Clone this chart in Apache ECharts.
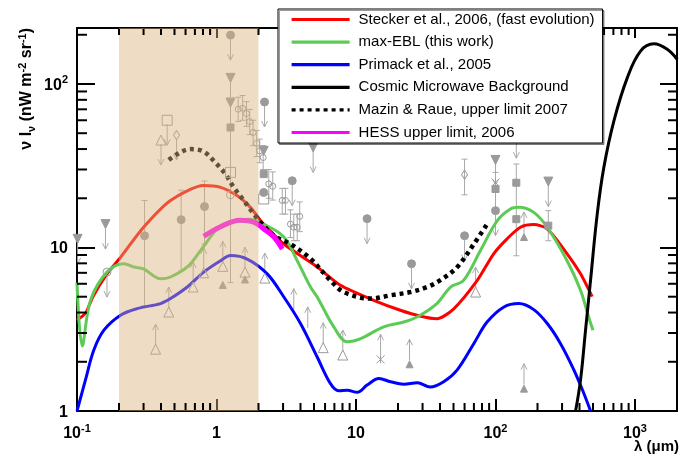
<!DOCTYPE html>
<html><head><meta charset="utf-8">
<script src="https://cdn.jsdelivr.net/npm/echarts@6/dist/echarts.min.js"></script>
<style>html,body{margin:0;padding:0;background:#fff}#c{width:682px;height:457px}</style>
</head><body><div id="c"></div>
<script>
const FONT = 'Liberation Sans';
const X_MIN = 0.1, X_MAX = 2000, Y_MIN = 1, Y_MAX = 220;

// axis ticks and labels
const xTickValues = [0.1, 1, 10, 100, 1000];
const xTickLabels = [['10','-1'],['1',''],['10',''],['10','2'],['10','3']];
const yTickValues = [1, 10, 100];
const yTickLabels = [['1',''],['10',''],['10','2']];
const xMinorTicks = [0.2,0.3,0.4,0.5,0.6,0.7,0.8,0.9,2,3,4,5,6,7,8,9,20,30,40,50,60,70,80,90,200,300,400,500,600,700,800,900];
const yMinorTicks = [2,3,4,5,6,7,8,9,20,30,40,50,60,70,80,90,200];

// shaded optical band (um)
const bandRange = [[0.2, 2]];

// model curves  [lambda (um), nuI_nu]
const stecker = [[0.1,3.6],[0.115,3.96],[0.13,5.0],[0.164,6.9],[0.205,8.7],[0.3,13.3],[0.468,19.4],[0.81,23.9],[1.07,23.3],[1.41,20.7],[1.75,17.6],[2.07,14.6],[2.18,13.9],[3.04,10.5],[5.27,7.6],[7.74,5.87],[13.4,4.75],[20.8,4.13],[29,3.8],[38,3.67],[50,4.2],[74,6.29],[97,9.15],[121,11.3],[151,13.3],[188,13.8],[235,13],[326,9.15],[407,6.9],[493,5.0]];
const maxEBL = [[0.1,6.1],[0.109,2.5],[0.125,4.75],[0.164,7.07],[0.217,7.95],[0.255,7.6],[0.30,7.4],[0.397,6.44],[0.468,6.6],[0.617,7.6],[0.77,9.6],[1.07,13.6],[1.41,14.6],[1.75,14.9],[2.18,13.9],[3.04,11.6],[3.79,8.3],[4.72,5.73],[5.27,4.98],[6.93,3.27],[8.65,2.65],[10.8,2.77],[15.8,3.27],[22,3.5],[28,3.8],[38,4.54],[47.6,5.73],[59,6.29],[78,9.6],[103,14.6],[128,17.2],[147,17.6],[188,16.4],[235,13.3],[326,8.3],[407,5.47],[465,3.76],[500,3.12]];
const primack = [[0.1,1.0],[0.115,1.55],[0.132,2.36],[0.156,3.12],[0.205,3.85],[0.27,4.23],[0.397,4.54],[0.468,4.87],[0.617,5.73],[0.81,7.07],[1.07,8.3],[1.26,8.93],[1.66,8.5],[2.31,6.9],[3.04,4.98],[4.0,3.43],[5.27,2.14],[6.56,1.47],[7.52,1.33],[8.65,1.34],[10.2,1.3],[12,1.44],[14.6,1.58],[17.7,1.51],[22,1.46],[27.5,1.49],[34,1.4],[42.5,1.51],[53,1.78],[70,2.59],[87,3.5],[115,4.33],[147,4.54],[188,4.17],[235,3.43],[292,2.59],[365,1.78],[430,1.28],[480,1.0]];
const cmb = [[375,1.0],[407,1.55],[442,3.12],[480,6.29],[536,16],[598,30.9],[706,59.5],[880,109],[1096,159],[1365,176],[1702,163],[2010,141]];
const mazinRaue = [[0.455,34.3],[0.52,37.2],[0.65,40],[0.81,38.6],[0.98,33.1],[1.16,28.1],[1.33,23.3],[1.57,19.4],[1.85,16],[2.13,13.9],[2.58,11.8],[3.39,10.5],[4.72,8.53],[6.56,6.29],[8.17,5.34],[12.7,4.87],[17.7,5.1],[24.6,5.34],[32.3,5.73],[40,6.29],[53,7.57],[70,10.5],[87,13.9]];
const hess = [[0.81,11.7],[1.07,13.4],[1.48,14.7],[1.85,14.3],[2.18,13],[2.58,11.6],[2.96,9.8]];

// measurements [lambda, value, marker]
const upperLimits = [[0.101,11.3,'invTri'],[0.16,13.9,'invTri'],[0.164,7.07,'oCircle'],[0.40,45.4,'oTri'],[0.443,60,'oSquare'],[0.517,48.7,'oDiamond'],[1.26,199,'fCircle'],[1.26,109,'invTri'],[2.21,77.6,'fCircle'],[3.49,25.6,'fCircle'],[4.93,40.9,'invTri'],[12,15,'fCircle'],[25,7.95,'fCircle'],[60,11.8,'fCircle'],[100,34.3,'invTri'],[100,16.8,'fCircle'],[141,50,'invTri'],[239,25.3,'invTri']];
const lowerLimits = [[0.366,2.39,'oTri'],[0.455,4.03,'oTri'],[0.68,5.73,'oTri'],[0.81,7.0,'oTri'],[1.11,7.67,'oTri'],[1.6,7.07,'oTri'],[2.22,6.5,'oTri'],[3.58,3.94,'none'],[4.51,3.05,'none'],[5.82,2.44,'oTri'],[8.04,2.2,'oTri'],[15,2.07,'star'],[24.2,1.93,'fTri'],[72,5.34,'oTri'],[160,11.6,'fTri'],[160,1.37,'fTri']];
// [lambda, value, low, high, marker]
const errorPoints = [[0.305,11.8,4.4,19.4,'fCircle'],[0.558,14.8,7.2,22.4,'fCircle'],[0.82,17.8,10.5,25.5,'fCircle'],[1.26,54.2,6.1,78.6,'fSquare'],
 [1.43,70.1,59,83,'oCircleS'],[1.54,71.1,60,85,'oCircleS'],[1.64,65.9,55,78,'oCircleS'],[1.73,58.9,49,70,'oCircleS'],[1.83,50.5,42,60,'oCircleS'],[1.94,43.3,36,52,'oCircleS'],[2.04,39.0,33,46,'oCircleS'],[2.16,35.5,30,42,'oCircleS'],
 [2.37,24.5,20,30,'oCircleS'],[2.53,23.7,19.5,29,'oCircleS'],[2.96,19.4,16,23,'oCircleS'],[3.12,19.4,16,23,'oCircleS'],[3.39,13.9,11.5,17,'oCircleS'],[3.58,13.3,11,16,'oCircleS'],[3.79,13.3,11,16,'oCircleS'],[3.95,15.5,12.5,19,'oCircleS'],
 [60,27.9,21,34.7,'oDiamond'],[100,22.8,16.8,28.8,'fSquare'],[141,24.9,8.9,32.4,'fSquare'],[239,13.6,11,16.8,'fSquare']];
const plainPoints = [[1.26,76.9,'invTri'],[1.26,28.8,'oSquare'],[1.26,21,'oCircle'],[2.18,39,'invTri'],[2.18,28.1,'fSquare'],[2.18,21.7,'fCircle'],[2.18,19.8,'oSquare'],[1.11,5.9,'fTri'],[1.6,6.37,'fTri'],[141,14.9,'fSquare'],[100,25,'star']];

const NAMES = ['Stecker et al., 2006, (fast evolution)','max-EBL (this work)','Primack et al., 2005','Cosmic Microwave Background','Mazin & Raue, upper limit 2007','HESS upper limit, 2006'];

const GRAY = '#9a9a9a';
const MARKERS = {
  fCircle:{symbol:'circle', size:8, fill:GRAY},
  oCircle:{symbol:'circle', size:8, fill:'rgba(0,0,0,0)'},
  oCircleS:{symbol:'circle', size:6, fill:'rgba(0,0,0,0)'},
  invTri:{symbol:'triangle', size:9, fill:GRAY, rotate:180},
  fSquare:{symbol:'rect', size:7, fill:GRAY},
  oSquare:{symbol:'rect', size:10, fill:'rgba(0,0,0,0)'},
  oDiamond:{symbol:'diamond', size:[6,9], fill:'rgba(0,0,0,0)'},
  oTri:{symbol:'triangle', size:10, fill:'rgba(0,0,0,0)'},
  fTri:{symbol:'triangle', size:7, fill:GRAY},
  star:{symbol:'path://M0,0L10,10M10,0L0,10M5,0L5,10', size:8, fill:'none'}
};

const RICH = {
  b:{fontFamily:FONT, fontSize:16, fontWeight:'bold', color:'#000', lineHeight:19, verticalAlign:'bottom'},
  s:{fontFamily:FONT, fontSize:11, fontWeight:'bold', color:'#000', lineHeight:12, verticalAlign:'top'}
};
function labelFmt(vals, labels){
  return function(v){
    for (let i=0;i<vals.length;i++){
      if (Math.abs(Math.log10(v)-Math.log10(vals[i]))<1e-6){
        const b = labels[i][0], s = labels[i][1];
        return s ? '{b|'+b+'}{s|'+s+'}' : '{b|'+b+'}';
      }
    }
    return '';
  };
}
function axisX(pos, len, showLabel){
  return {type:'log', logBase:10, min:X_MIN, max:X_MAX, position:pos,
    axisLine:{show:true, onZero:false, lineStyle:{color:'#000', width:2}},
    axisTick:{show:true, inside:true, length:len, lineStyle:{color:'#000', width:2}},
    axisLabel:{show:showLabel, margin:12, formatter:labelFmt(xTickValues,xTickLabels), rich:RICH},
    splitLine:{show:false}};
}
function axisY(pos, len, showLabel){
  return {type:'log', logBase:10, min:Y_MIN, max:Y_MAX, position:pos,
    axisLine:{show:true, onZero:false, lineStyle:{color:'#000', width:2}},
    axisTick:{show:true, inside:true, length:len, lineStyle:{color:'#000', width:2}},
    axisLabel:{show:showLabel, margin:9, formatter:labelFmt(yTickValues,yTickLabels), rich:RICH},
    splitLine:{show:false}};
}

const series = [];
// minor ticks on all four sides, placed through the axes' scales
function tickSeries(data, size, offset){
  return {type:'scatter', silent:true, z:4, clip:false, data:data, symbol:'rect', symbolSize:size, symbolOffset:offset,
    itemStyle:{color:'#000', borderWidth:0, opacity:1}};
}
series.push(tickSeries(xMinorTicks.map(v=>[v,Y_MIN]), [2,7], [0,-4.5]));
series.push(tickSeries(xMinorTicks.map(v=>[v,Y_MAX]), [2,6], [0,4]));
series.push(tickSeries(yMinorTicks.map(v=>[X_MIN,v]), [10,2], [5,0]));
series.push(tickSeries(yMinorTicks.map(v=>[X_MAX,v]), [9,2], [-4.5,0]));

// error bars
series.push({type:'custom', silent:true, z:2, clip:true, data:errorPoints.map(d=>d.slice(0,4)), encode:{x:0, y:[1,2,3]},
  renderItem:(p,api)=>{const x=api.value(0); const lo=api.coord([x,api.value(2)]); const hi=api.coord([x,api.value(3)]);
    const st={stroke:'#a8a8a8', lineWidth:1}; const c=3;
    return {type:'group', children:[
      {type:'line', shape:{x1:lo[0],y1:lo[1],x2:hi[0],y2:hi[1]}, style:st},
      {type:'line', shape:{x1:lo[0]-c,y1:lo[1],x2:lo[0]+c,y2:lo[1]}, style:st},
      {type:'line', shape:{x1:hi[0]-c,y1:hi[1],x2:hi[0]+c,y2:hi[1]}, style:st}]};}});

function arrowSeries(arr, dir){
  return {type:'custom', silent:true, z:2, clip:true, encode:{x:0, y:1}, data:arr.map(d=>[d[0],d[1]]),
    renderItem:(p,api)=>{const pt=api.coord([api.value(0),api.value(1)]);
      const st={stroke:'#a8a8a8', lineWidth:1, fill:null};
      const y0=pt[1]+dir*4, y1=pt[1]+dir*25;
      return {type:'group', children:[
        {type:'line', shape:{x1:pt[0],y1:y0,x2:pt[0],y2:y1}, style:st},
        {type:'polyline', shape:{points:[[pt[0]-3,y1-dir*6],[pt[0],y1],[pt[0]+3,y1-dir*6]]}, style:st}]};}};
}
series.push(arrowSeries(upperLimits, 1));
series.push(arrowSeries(lowerLimits, -1));

// markers
const allMarked = [].concat(upperLimits.map(d=>[d[0],d[1],d[2]]), lowerLimits.map(d=>[d[0],d[1],d[2]]), errorPoints.map(d=>[d[0],d[1],d[4]]), plainPoints);
Object.keys(MARKERS).forEach(k=>{
  const m = MARKERS[k];
  const pts = allMarked.filter(d=>d[2]===k).map(d=>[d[0],d[1]]);
  if (!pts.length) return;
  series.push({type:'scatter', silent:true, z:2, data:pts, symbol:m.symbol, symbolSize:m.size, symbolRotate:m.rotate||0,
    itemStyle:{color:m.fill, borderColor:GRAY, borderWidth:1, opacity:1}});
});

// curves
function curve(name, data, color, width, type, smooth){
  return {name:name, type:'line', data:data, symbol:'none', showSymbol:false, smooth:smooth, z:2,
    lineStyle:{color:color, width:width, type:type||'solid', cap:'butt'}, itemStyle:{color:color}};
}
series.push(curve(NAMES[0], stecker, '#ff0000', 3, 'solid', 0.25));
series.push(curve(NAMES[1], maxEBL, '#5ccb55', 3, 'solid', 0.35));
series.push(curve(NAMES[2], primack, '#0000ff', 3, 'solid', 0.35));
series.push(curve(NAMES[3], cmb, '#000000', 3, 'solid', 0.4));
series.push(curve(NAMES[4], mazinRaue, '#000000', 4.5, [4,4], 0.35));
series.push(curve(NAMES[5], hess, '#ff00ff', 5, 'solid', 0.4));

// translucent band on top
series.push({type:'custom', silent:true, z:3, data:bandRange,
  renderItem:(p,api)=>{const a=api.coord([api.value(0),Y_MAX]); const b=api.coord([api.value(1),Y_MIN]);
    return {type:'rect', shape:{x:a[0], y:a[1], width:b[0]-a[0], height:b[1]-a[1]}, style:{fill:'rgba(220,178,125,0.45)'}};}});

const chart = echarts.init(document.getElementById('c'));
chart.setOption({
  animation:false,
  grid:{left:77, right:5, top:28, bottom:46},
  xAxis:[axisX('bottom',12,true), axisX('top',10,false)],
  yAxis:[axisY('left',18,true), axisY('right',17,false)],
  legend:{
    orient:'vertical', left:278, top:9, z:6,
    backgroundColor:'#fff', borderColor:'#000', borderWidth:1, borderRadius:0,
    shadowColor:'rgba(0,0,0,0.4)', shadowOffsetX:1.5, shadowOffsetY:1.5, shadowBlur:0,
    padding:[3,8,3,12], itemWidth:58, itemHeight:14, itemGap:7.6,
    itemStyle:{opacity:0}, lineStyle:{width:3.2, type:'inherit'},
    textStyle:{fontFamily:FONT, fontSize:15, color:'#000', padding:[0,0,0,4]},
    selectedMode:false,
    data:NAMES
  },
  graphic:[
    {type:'text', x:27, y:28, rotation:Math.PI/2, z:10,
      style:{text:'{n|ν I}{sub|ν}{n| (nW m}{sup|-2}{n| sr}{sup|-1}{n|)}', align:'right', verticalAlign:'middle',
        rich:{n:{fontFamily:FONT, fontSize:16, fontWeight:'bold', fill:'#000', lineHeight:20, verticalAlign:'middle'},
              sub:{fontFamily:FONT, fontSize:11, fontWeight:'bold', fill:'#000', lineHeight:20, verticalAlign:'bottom'},
              sup:{fontFamily:FONT, fontSize:11, fontWeight:'bold', fill:'#000', lineHeight:20, verticalAlign:'top'}}}},
    {type:'text', x:679, y:447, z:10,
      style:{text:'λ (μm)', align:'right', verticalAlign:'middle', fontFamily:FONT, fontSize:15, fontWeight:'bold', fill:'#000'}}
  ],
  series:series
});
</script></body></html>
